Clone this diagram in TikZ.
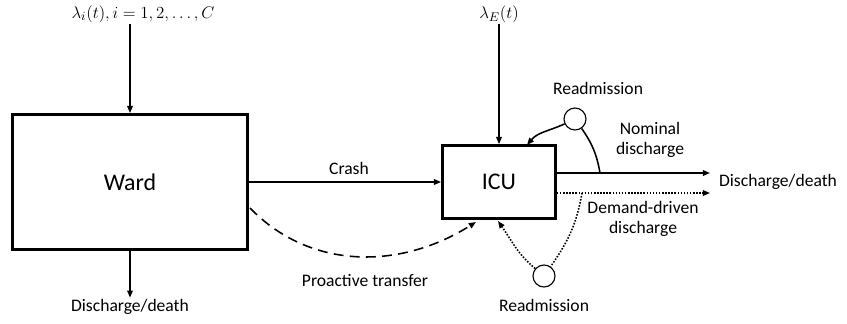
\documentclass[tikz,border=0pt]{standalone}
\usepackage{fontspec}
\setmainfont{Carlito}
\usetikzlibrary{arrows.meta,positioning}

\begin{document}
\begin{tikzpicture}[
  x=0.025cm, y=-0.025cm,
  unit/.style={
    draw,
    line width=1.9pt,
    align=center,
    font=\fontsize{17}{20}\selectfont
  },
  label/.style={
    align=center,
    inner sep=1pt,
    font=\fontsize{12.5}{14.5}\selectfont
  },
  hub/.style={
    draw,
    circle,
    line width=0.8pt,
    fill=white,
    minimum size=0.55cm,
    inner sep=0pt
  },
  flow/.style={
    -{Triangle[length=1.8mm,width=1.4mm]},
    line width=1.1pt
  },
  dots/.style={
    dash pattern=on 1.1pt off 1.1pt
  }
]
\useasboundingbox (0,0) rectangle (847,323);

% Nodes
\node[unit, minimum width=5.875cm, minimum height=3.375cm] (ward) at (130,182) {Ward};
\node[unit, minimum width=2.825cm, minimum height=1.825cm] (icu) at (499,182) {ICU};
\node[label] (lami) at (143,14) {$\lambda_i(t), i=1,2,\dots,C$};
\node[label] (lame) at (499,14) {$\lambda_E(t)$};
\node[label] (wardout) at (130,307) {Discharge/death};
\node[label] (icuout) at (778,182) {Discharge/death};
\node[label] (crash) at (349,168) {Crash};
\node[label] (pro) at (365,280) {Proactive transfer};
\node[label] (nom) at (650,140) {Nominal\\discharge};
\node[label] (dem) at (643,219) {Demand-driven\\discharge};
\node[hub] (rup) at (575,119) {};
\node[hub] (rlo) at (544,276) {};
\node[label] (rupl) at (598,88) {Readmission};
\node[label] (rlol) at (544,305) {Readmission};

% Points on the lines
\coordinate (nomend) at (710,173);
\coordinate (demend) at (710,193);
\coordinate (nomsplit) at (600,173);
\coordinate (demsplit) at (582,193);
\coordinate (icutop) at (527,145);
\coordinate (icubot) at (498,221);
\coordinate (protop) at (476,222);

% Relationships
\draw[flow] (lami.south -| ward) -- (ward);
\draw[flow] (ward) -- (wardout);
\draw[flow] (lame) -- (icu);
\draw[flow] (ward.east) -- (icu.west);
\draw[flow, dash pattern=on 7pt off 4.5pt] (250,208) .. controls (310,270) and (400,270) .. (protop);
\draw[flow] (icu.east |- nomend) -- (nomend);
\draw[flow, dots] (icu.east |- demend) -- (demend);
\draw[line width=1.1pt] (nomsplit) to[out=100, in=-55] (rup);
\draw[flow] (rup) to[out=205, in=50] (icutop);
\draw[line width=1.1pt, dots] (demsplit) to[out=-100, in=55] (rlo);
\draw[flow, dots] (rlo) to[out=140, in=-55] (icubot);

\end{tikzpicture}
\end{document}
